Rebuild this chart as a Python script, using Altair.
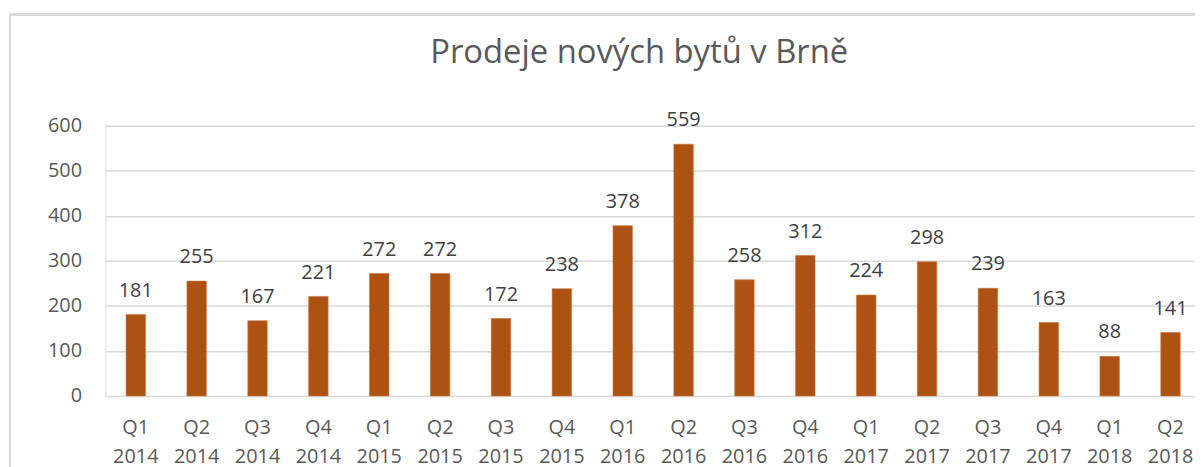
import altair as alt
import pandas as pd

quarters = ["Q1", "Q2", "Q3", "Q4", "Q1", "Q2", "Q3", "Q4", "Q1", "Q2",
            "Q3", "Q4", "Q1", "Q2", "Q3", "Q4", "Q1", "Q2"]
years = ["2014", "2014", "2014", "2014", "2015", "2015", "2015", "2015", "2016", "2016",
         "2016", "2016", "2017", "2017", "2017", "2017", "2018", "2018"]
sales = [181, 255, 167, 221, 272, 272, 172, 238, 378, 559,
         258, 312, 224, 298, 239, 163, 88, 141]

categories = [f"{q} {y}" for q, y in zip(quarters, years)]
df = pd.DataFrame({"obdobi": categories, "prodeje": sales})

FONT = "Open Sans"
TXT = "#595959"
GRID = "#d9d9d9"
BAR = "#AE5213"

W, H = 1103, 272

xenc = alt.X(
    "obdobi:N",
    sort=categories,
    scale=alt.Scale(paddingInner=0.68, paddingOuter=0.34),
    axis=alt.Axis(
        title=None, labelAngle=0, labelExpr="split(datum.label, ' ')",
        labelFont=FONT, labelFontSize=20, labelColor=TXT, labelLineHeight=29,
        labelPadding=22, ticks=False, domain=False, grid=False, labelBaseline="top",
    ),
)
yenc = alt.Y(
    "prodeje:Q",
    scale=alt.Scale(domain=[0, 600], nice=False),
    axis=alt.Axis(
        title=None, values=[0, 100, 200, 300, 400, 500, 600],
        labelFont=FONT, labelFontSize=20, labelColor=TXT, labelPadding=24,
        ticks=False, domain=False, gridColor=GRID, gridWidth=1.5,
    ),
)

base = alt.Chart(df)
bars = base.mark_bar(color=BAR, stroke="#c8763d", strokeWidth=0.6).encode(x=xenc, y=yenc)
labels = base.mark_text(
    font=FONT, fontSize=20, color="#404040", baseline="alphabetic", dy=-18
).encode(x=xenc, y=yenc, text="prodeje:Q")

border_left = alt.Chart(df).mark_rule(color=GRID, strokeWidth=2).encode(
    x=alt.value(-96), y=alt.value(-112), y2=alt.value(400)
)
border_top = alt.Chart(df).mark_rule(color=GRID, strokeWidth=2).encode(
    x=alt.value(-96), x2=alt.value(1200), y=alt.value(-112)
)

chart = alt.layer(border_left, border_top, bars, labels).properties(
    width=W, height=H,
    title=alt.TitleParams(
        "Prodeje nových bytů v Brně", font=FONT, fontSize=33, fontWeight="normal",
        color=TXT, anchor="middle", dx=-14, offset=-83, baseline="alphabetic",
    ),
    autosize=alt.AutoSizeParams(type="none"),
    padding={"left": 98, "top": 117, "right": -6, "bottom": 70},
).configure_view(stroke=None).configure(background="white")

chart.save("out.html", embed_options={"renderer": "svg", "actions": False})
